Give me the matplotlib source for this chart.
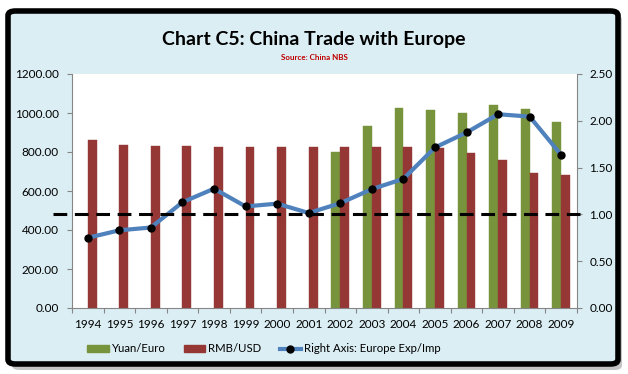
import matplotlib
matplotlib.use("Agg")
import matplotlib.pyplot as plt
import numpy as np
from matplotlib.patches import FancyBboxPatch, Patch
from matplotlib.lines import Line2D

years = ["1994", "1995", "1996", "1997", "1998", "1999", "2000", "2001",
         "2002", "2003", "2004", "2005", "2006", "2007", "2008", "2009"]
yuan_euro = [np.nan] * 8 + [802, 935, 1027, 1017, 1002, 1041, 1020, 952]
rmb_usd = [861.9, 835.1, 831.4, 829.0, 827.9, 827.8, 827.8, 827.7,
           827.7, 827.7, 827.7, 819.2, 797.2, 760.4, 694.5, 683.1]
exp_imp = [0.75, 0.83, 0.86, 1.13, 1.275, 1.085, 1.115, 1.015,
           1.12, 1.27, 1.38, 1.715, 1.875, 2.07, 2.045, 1.635]
parity = 1.0
left_ticks = [0, 200, 400, 600, 800, 1000, 1200]
right_ticks = [0, 0.5, 1.0, 1.5, 2.0, 2.5]

plt.rcParams['font.family'] = ['Lato', 'DejaVu Sans']

W, H = 628, 374
fig = plt.figure(figsize=(W / 100, H / 100), dpi=100)
fig.patch.set_facecolor('white')

# frame with shadow
shadow = FancyBboxPatch((12 / W, 4 / H), 610 / W, 355 / H,
                        boxstyle="round,pad=0,rounding_size=0.012",
                        transform=fig.transFigure, facecolor='#8c8c8c',
                        edgecolor='none', alpha=0.5, zorder=0)
fig.patches.append(shadow)
frame = FancyBboxPatch((8 / W, 10 / H), 610 / W, 353 / H,
                       boxstyle="round,pad=0,rounding_size=0.012",
                       transform=fig.transFigure, facecolor='#DBEEF4',
                       edgecolor='black', linewidth=4, zorder=1)
fig.patches.append(frame)

ax = fig.add_axes([72 / W, 1 - 308 / H, (577 - 72) / W, (308 - 74) / H])
ax.set_zorder(2)
ax.set_facecolor('white')
x = np.arange(len(years))
bw = 0.28
ax.bar(x - bw / 2, yuan_euro, width=bw, color='#77933C', edgecolor='#77933C',
       linewidth=0.3, label='Yuan/Euro', zorder=2)
ax.bar(x + bw / 2, rmb_usd, width=bw, color='#953735', edgecolor='#953735',
       linewidth=0.3, label='RMB/USD', zorder=2)
ax.set_xlim(-0.5, len(years) - 0.5)
ax.set_ylim(0, 1200)
ax.set_yticks(left_ticks)
ax.set_yticklabels([f"{v:.2f}" for v in left_ticks])
ax.set_xticks(x)
ax.set_xticklabels(years)
ax.set_xticks(np.arange(-0.5, len(years), 1), minor=True)
ax.tick_params(axis='x', which='major', length=0, pad=8, labelsize=8.5, colors='black')
ax.tick_params(axis='x', which='minor', length=3.6, color='#868686', width=0.8)
ax.tick_params(axis='y', length=3.6, color='#868686', width=0.8, pad=5.8, labelsize=8.5)
for s in ['top', 'right']:
    ax.spines[s].set_visible(False)
for s in ['left', 'bottom']:
    ax.spines[s].set_color('#868686')
    ax.spines[s].set_linewidth(0.8)

ax2 = ax.twinx()
ax2.set_ylim(0, 2.5)
ax2.set_yticks(right_ticks)
ax2.set_yticklabels([f"{v:.2f}" for v in right_ticks])
ax2.tick_params(axis='y', length=3.6, color='#868686', width=0.8, pad=5.2, labelsize=8.5)
for s in ['top', 'left', 'bottom']:
    ax2.spines[s].set_visible(False)
ax2.spines['right'].set_color('#868686')
ax2.spines['right'].set_linewidth(0.8)
ax2.plot(x, exp_imp, color='#4F81BD', linewidth=3, marker='o', markersize=5,
         markerfacecolor='black', markeredgecolor='black', zorder=4,
         solid_joinstyle='round')
ax2.plot([-1.1, len(years) - 0.4], [parity, parity], color='black', linewidth=2.2,
         linestyle=(0, (4.5, 2.5)), clip_on=False, zorder=5)

fig.text(0.5, 1 - 40 / H, "Chart C5: China Trade with Europe", ha='center', va='center',
         fontsize=14, fontweight='bold', color='black')
fig.text(0.5, 1 - 58 / H, "Source: China NBS", ha='center', va='center',
         fontsize=5.8, fontweight='bold', color='#C00000')

handles = [Patch(facecolor='#77933C', edgecolor='#77933C'),
           Patch(facecolor='#953735', edgecolor='#953735'),
           Line2D([0], [0], color='#4F81BD', linewidth=3, marker='o', markersize=5,
                  markerfacecolor='black', markeredgecolor='black')]
labels = ['Yuan/Euro', 'RMB/USD', 'Right Axis: Europe Exp/Imp']
fig.legend(handles, labels, loc='center', bbox_to_anchor=(264 / W, 1 - 349 / H),
           ncol=3, frameon=False, fontsize=8.2, handlelength=1.9, handleheight=0.65,
           columnspacing=1.6, handletextpad=0.25)

fig.savefig("out.png", dpi=100, facecolor='white')
